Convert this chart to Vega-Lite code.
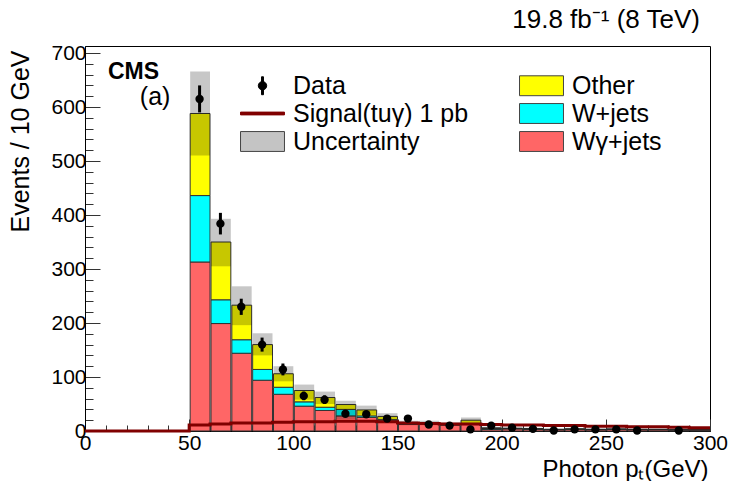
{
  "$schema": "https://vega.github.io/schema/vega-lite/v6.json",
  "width": 625,
  "height": 385,
  "autosize": {"type": "none"},
  "padding": {"left": 85, "top": 46, "right": 21, "bottom": 50},
  "background": "white",
  "title": {"text": "19.8 fb⁻¹ (8 TeV)", "anchor": "end", "frame": "group", "fontSize": 26, "fontWeight": "normal", "font": "Liberation Sans", "color": "black", "baseline": "alphabetic", "offset": 14, "dx": -10, "dy": 26},
  "datasets": {
    "stack": [
      {"lo":50,"hi":60,"label":"Wγ+jets","ord":1,"n":313},{"lo":60,"hi":70,"label":"Wγ+jets","ord":1,"n":199},{"lo":70,"hi":80,"label":"Wγ+jets","ord":1,"n":144},{"lo":80,"hi":90,"label":"Wγ+jets","ord":1,"n":94},{"lo":90,"hi":100,"label":"Wγ+jets","ord":1,"n":68},
      {"lo":100,"hi":110,"label":"Wγ+jets","ord":1,"n":46},{"lo":110,"hi":120,"label":"Wγ+jets","ord":1,"n":38},{"lo":120,"hi":130,"label":"Wγ+jets","ord":1,"n":28},{"lo":130,"hi":140,"label":"Wγ+jets","ord":1,"n":25},{"lo":140,"hi":150,"label":"Wγ+jets","ord":1,"n":19},
      {"lo":150,"hi":160,"label":"Wγ+jets","ord":1,"n":12},{"lo":160,"hi":170,"label":"Wγ+jets","ord":1,"n":12},{"lo":170,"hi":180,"label":"Wγ+jets","ord":1,"n":11},{"lo":180,"hi":190,"label":"Wγ+jets","ord":1,"n":12},{"lo":190,"hi":200,"label":"Wγ+jets","ord":1,"n":3},
      {"lo":200,"hi":210,"label":"Wγ+jets","ord":1,"n":4},{"lo":210,"hi":220,"label":"Wγ+jets","ord":1,"n":3.5},{"lo":220,"hi":230,"label":"Wγ+jets","ord":1,"n":2.5},{"lo":230,"hi":240,"label":"Wγ+jets","ord":1,"n":3},{"lo":240,"hi":250,"label":"Wγ+jets","ord":1,"n":2.5},
      {"lo":250,"hi":260,"label":"Wγ+jets","ord":1,"n":3},{"lo":260,"hi":270,"label":"Wγ+jets","ord":1,"n":2.5},{"lo":270,"hi":280,"label":"Wγ+jets","ord":1,"n":2.5},{"lo":280,"hi":290,"label":"Wγ+jets","ord":1,"n":2},{"lo":290,"hi":300,"label":"Wγ+jets","ord":1,"n":2},
      {"lo":50,"hi":60,"label":"W+jets","ord":2,"n":123},{"lo":60,"hi":70,"label":"W+jets","ord":2,"n":44},{"lo":70,"hi":80,"label":"W+jets","ord":2,"n":25},{"lo":80,"hi":90,"label":"W+jets","ord":2,"n":20},{"lo":90,"hi":100,"label":"W+jets","ord":2,"n":13},
      {"lo":100,"hi":110,"label":"W+jets","ord":2,"n":8},{"lo":110,"hi":120,"label":"W+jets","ord":2,"n":6},{"lo":120,"hi":130,"label":"W+jets","ord":2,"n":12},{"lo":130,"hi":140,"label":"W+jets","ord":2,"n":3},{"lo":140,"hi":150,"label":"W+jets","ord":2,"n":2},
      {"lo":150,"hi":160,"label":"W+jets","ord":2,"n":1},{"lo":160,"hi":170,"label":"W+jets","ord":2,"n":1},{"lo":170,"hi":180,"label":"W+jets","ord":2,"n":1},{"lo":180,"hi":190,"label":"W+jets","ord":2,"n":2},{"lo":190,"hi":200,"label":"W+jets","ord":2,"n":2},
      {"lo":200,"hi":210,"label":"W+jets","ord":2,"n":0.5},{"lo":210,"hi":220,"label":"W+jets","ord":2,"n":0.3},{"lo":220,"hi":230,"label":"W+jets","ord":2,"n":0.2},{"lo":230,"hi":240,"label":"W+jets","ord":2,"n":0.3},{"lo":240,"hi":250,"label":"W+jets","ord":2,"n":0.2},
      {"lo":250,"hi":260,"label":"W+jets","ord":2,"n":0.2},{"lo":260,"hi":270,"label":"W+jets","ord":2,"n":0.2},{"lo":270,"hi":280,"label":"W+jets","ord":2,"n":0.2},{"lo":280,"hi":290,"label":"W+jets","ord":2,"n":0.2},{"lo":290,"hi":300,"label":"W+jets","ord":2,"n":0.2},
      {"lo":50,"hi":60,"label":"Other","ord":3,"n":152},{"lo":60,"hi":70,"label":"Other","ord":3,"n":107},{"lo":70,"hi":80,"label":"Other","ord":3,"n":64},{"lo":80,"hi":90,"label":"Other","ord":3,"n":46},{"lo":90,"hi":100,"label":"Other","ord":3,"n":25},
      {"lo":100,"hi":110,"label":"Other","ord":3,"n":21},{"lo":110,"hi":120,"label":"Other","ord":3,"n":18},{"lo":120,"hi":130,"label":"Other","ord":3,"n":9},{"lo":130,"hi":140,"label":"Other","ord":3,"n":11},{"lo":140,"hi":150,"label":"Other","ord":3,"n":6},
      {"lo":150,"hi":160,"label":"Other","ord":3,"n":2},{"lo":160,"hi":170,"label":"Other","ord":3,"n":2},{"lo":170,"hi":180,"label":"Other","ord":3,"n":1},{"lo":180,"hi":190,"label":"Other","ord":3,"n":6},{"lo":190,"hi":200,"label":"Other","ord":3,"n":0.5},
      {"lo":200,"hi":210,"label":"Other","ord":3,"n":0.5},{"lo":210,"hi":220,"label":"Other","ord":3,"n":0.3},{"lo":220,"hi":230,"label":"Other","ord":3,"n":0.3},{"lo":230,"hi":240,"label":"Other","ord":3,"n":0.5},{"lo":240,"hi":250,"label":"Other","ord":3,"n":0.3},
      {"lo":250,"hi":260,"label":"Other","ord":3,"n":0.3},{"lo":260,"hi":270,"label":"Other","ord":3,"n":0.2},{"lo":270,"hi":280,"label":"Other","ord":3,"n":0.2},{"lo":280,"hi":290,"label":"Other","ord":3,"n":0.2},{"lo":290,"hi":300,"label":"Other","ord":3,"n":0.2}
    ],
    "unc": [
      {"lo":50,"hi":60,"ulo":510,"uhi":666},{"lo":60,"hi":70,"ulo":305,"uhi":393},{"lo":70,"hi":80,"ulo":196,"uhi":268},{"lo":80,"hi":90,"ulo":140,"uhi":181},{"lo":90,"hi":100,"ulo":92,"uhi":120},
      {"lo":100,"hi":110,"ulo":58,"uhi":86},{"lo":110,"hi":120,"ulo":50,"uhi":73},{"lo":120,"hi":130,"ulo":22,"uhi":56},{"lo":130,"hi":140,"ulo":30,"uhi":47},{"lo":140,"hi":150,"ulo":21,"uhi":33},
      {"lo":150,"hi":160,"ulo":11,"uhi":19},{"lo":160,"hi":170,"ulo":11,"uhi":19},{"lo":170,"hi":180,"ulo":10,"uhi":16},{"lo":180,"hi":190,"ulo":15,"uhi":25},{"lo":190,"hi":200,"ulo":3,"uhi":8},
      {"lo":200,"hi":210,"ulo":3,"uhi":7},{"lo":210,"hi":220,"ulo":2,"uhi":6},{"lo":220,"hi":230,"ulo":1,"uhi":5},{"lo":230,"hi":240,"ulo":2,"uhi":6},{"lo":240,"hi":250,"ulo":1,"uhi":5},
      {"lo":250,"hi":260,"ulo":2,"uhi":5},{"lo":260,"hi":270,"ulo":1,"uhi":5},{"lo":270,"hi":280,"ulo":1,"uhi":5},{"lo":280,"hi":290,"ulo":1,"uhi":4},{"lo":290,"hi":300,"ulo":1,"uhi":4}
    ],
    "sig": [
      {"x":0,"s":0},{"x":10,"s":0},{"x":20,"s":0},{"x":30,"s":0},{"x":40,"s":0},
      {"x":50,"s":11},{"x":60,"s":13},{"x":70,"s":15},{"x":80,"s":15},{"x":90,"s":16},
      {"x":100,"s":17},{"x":110,"s":17},{"x":120,"s":18},{"x":130,"s":18},{"x":140,"s":17},
      {"x":150,"s":15},{"x":160,"s":14},{"x":170,"s":13},{"x":180,"s":13},{"x":190,"s":12},
      {"x":200,"s":11},{"x":210,"s":11},{"x":220,"s":10},{"x":230,"s":10},{"x":240,"s":9},
      {"x":250,"s":9},{"x":260,"s":8},{"x":270,"s":8},{"x":280,"s":7},{"x":290,"s":6},{"x":300,"s":6}
    ],
    "obs": [
      {"c":55,"n":615,"elo":590,"ehi":640},{"c":65,"n":384,"elo":364,"ehi":404},{"c":75,"n":230,"elo":215,"ehi":245},{"c":85,"n":160,"elo":147,"ehi":173},{"c":95,"n":114,"elo":103,"ehi":125},
      {"c":105,"n":65,"elo":57,"ehi":73},{"c":115,"n":58,"elo":50,"ehi":66},{"c":125,"n":32,"elo":26,"ehi":38},{"c":135,"n":31,"elo":25,"ehi":37},{"c":145,"n":23,"elo":18,"ehi":28},
      {"c":155,"n":23,"elo":18,"ehi":28},{"c":165,"n":12,"elo":8.5,"ehi":15.5},{"c":175,"n":10,"elo":7,"ehi":13},{"c":185,"n":3,"elo":1.3,"ehi":4.7},{"c":195,"n":10,"elo":7,"ehi":13},
      {"c":205,"n":6,"elo":3.6,"ehi":8.4},{"c":215,"n":4,"elo":2,"ehi":6},{"c":225,"n":1,"elo":0,"ehi":2},{"c":235,"n":3,"elo":1.3,"ehi":4.7},{"c":245,"n":3,"elo":1.3,"ehi":4.7},
      {"c":255,"n":3,"elo":1.3,"ehi":4.7},{"c":265,"n":1,"elo":0,"ehi":2},{"c":285,"n":1,"elo":0,"ehi":2}
    ],
    "leg": [
      {"label":"Data"},{"label":"Signal(tuγ) 1 pb"},{"label":"Uncertainty"},{"label":"Other"},{"label":"W+jets"},{"label":"Wγ+jets"}
    ],
    "cms": [{"x":11,"y":652,"t":"CMS"}],
    "tag": [{"x":41,"y":603,"t":"(a)"}]
  },
  "layer": [
    {
      "data": {"name": "stack"},
      "mark": {"type": "bar", "stroke": "#333333", "strokeWidth": 1},
      "encoding": {
        "x": {"field": "lo", "type": "quantitative", "bin": {"binned": true, "step": 10}, "title": "Photon pₜ(GeV)",
              "scale": {"domain": [0, 300], "nice": false, "zero": false}},
        "x2": {"field": "hi"},
        "y": {"field": "n", "type": "quantitative", "stack": "zero", "title": "Events / 10 GeV",
              "scale": {"domain": [0, 713], "nice": false}},
        "fill": {"field": "label", "type": "nominal",
                 "scale": {"domain": ["Data","Signal(tuγ) 1 pb","Uncertainty","Other","W+jets","Wγ+jets"], "range": ["#000000","#800000","#c4c4c4","#ffff00","#00ffff","#ff6666"]}},
        "order": {"field": "ord", "type": "quantitative"}
      }
    },
    {
      "data": {"name": "unc"},
      "mark": {"type": "bar", "fill": "#000000", "fillOpacity": 0.22, "strokeWidth": 0},
      "encoding": {
        "x": {"field": "lo", "type": "quantitative", "bin": {"binned": true, "step": 10}, "title": "Photon pₜ(GeV)"},
        "x2": {"field": "hi"},
        "y": {"field": "ulo", "type": "quantitative", "title": "Events / 10 GeV"},
        "y2": {"field": "uhi"}
      }
    },
    {
      "data": {"name": "sig"},
      "mark": {"type": "line", "interpolate": "step-after", "color": "#800000", "strokeWidth": 3},
      "encoding": {
        "x": {"field": "x", "type": "quantitative", "title": "Photon pₜ(GeV)"},
        "y": {"field": "s", "type": "quantitative", "title": "Events / 10 GeV"}
      }
    },
    {
      "data": {"name": "obs"},
      "mark": {"type": "rule", "color": "#000000", "strokeWidth": 3},
      "encoding": {
        "x": {"field": "c", "type": "quantitative", "title": "Photon pₜ(GeV)"},
        "y": {"field": "elo", "type": "quantitative", "title": "Events / 10 GeV"},
        "y2": {"field": "ehi"}
      }
    },
    {
      "data": {"name": "obs"},
      "mark": {"type": "point", "shape": "circle", "filled": true, "color": "#000000", "size": 70, "opacity": 1},
      "encoding": {
        "x": {"field": "c", "type": "quantitative", "title": "Photon pₜ(GeV)"},
        "y": {"field": "n", "type": "quantitative", "title": "Events / 10 GeV"}
      }
    },
    {
      "data": {"name": "cms"},
      "mark": {"type": "text", "font": "Liberation Sans", "fontWeight": "bold", "fontSize": 23, "align": "left", "baseline": "alphabetic", "color": "#000000"},
      "encoding": {
        "x": {"field": "x", "type": "quantitative", "title": "Photon pₜ(GeV)"},
        "y": {"field": "y", "type": "quantitative", "title": "Events / 10 GeV"},
        "text": {"field": "t"}
      }
    },
    {
      "data": {"name": "tag"},
      "mark": {"type": "text", "font": "Liberation Sans", "fontSize": 25, "align": "right", "baseline": "alphabetic", "color": "#000000"},
      "encoding": {
        "x": {"field": "x", "type": "quantitative", "title": "Photon pₜ(GeV)"},
        "y": {"field": "y", "type": "quantitative", "title": "Events / 10 GeV"},
        "text": {"field": "t"}
      }
    },
    {
      "data": {"name": "leg"},
      "mark": {"type": "point", "filled": true, "opacity": 0},
      "encoding": {
        "fill": {"field": "label", "type": "nominal",
                 "scale": {"domain": ["Data","Signal(tuγ) 1 pb","Uncertainty","Other","W+jets","Wγ+jets"], "range": ["#000000","#800000","#c4c4c4","#ffff00","#00ffff","#ff6666"]},
                 "legend": {"orient": "none", "legendX": 163, "legendY": 25, "columns": 2, "title": null, "labelFontSize": 25, "labelFont": "Liberation Sans", "labelColor": "#000000",
                            "symbolSize": 784, "labelOffset": 16, "rowPadding": 0, "columnPadding": 48, "padding": 0, "symbolStrokeWidth": 1, "labelLimit": 0, "symbolOpacity": 1}},
        "stroke": {"field": "label", "type": "nominal",
                   "scale": {"domain": ["Data","Signal(tuγ) 1 pb","Uncertainty","Other","W+jets","Wγ+jets"], "range": ["#000000","#800000","#444444","#444444","#444444","#444444"]}},
        "shape": {"field": "label", "type": "nominal",
                  "scale": {"domain": ["Data","Signal(tuγ) 1 pb","Uncertainty","Other","W+jets","Wγ+jets"],
                            "range": ["M-0.07,-0.64H0.07V0.64H-0.07Z M-0.3,0A0.3,0.3 0 1,1 0.3,0A0.3,0.3 0 1,1 -0.3,0Z",
                                      "M-1.57,-0.1H1.57V0.1H-1.57Z",
                                      "M-1.57,-0.71H1.57V0.71H-1.57Z",
                                      "M-1.57,-0.71H1.57V0.71H-1.57Z",
                                      "M-1.57,-0.71H1.57V0.71H-1.57Z",
                                      "M-1.57,-0.71H1.57V0.71H-1.57Z"]}}
      }
    }
  ],
  "config": {
    "font": "Liberation Sans",
    "view": {"stroke": "#000000", "strokeWidth": 1},
    "axis": {"grid": false, "domainColor": "#000000", "domainWidth": 1, "tickColor": "#333333", "tickWidth": 1,
             "labelFont": "Liberation Sans", "labelFontSize": 21, "labelColor": "#000000", "labelFlush": false, "labelOverlap": false,
             "titleFont": "Liberation Sans", "titleFontSize": 25, "titleFontWeight": "normal", "titleColor": "#000000"},
    "axisX": {"tickCount": 30, "labelExpr": "datum.value % 50 === 0 ? datum.label : ''",
              "tickSize": {"condition": {"test": "datum.value % 50 === 0", "value": -12}, "value": -6},
              "labelPadding": 13, "titleX": 623, "titleY": 45, "titleFontSize": 24, "titleAlign": "right", "titleBaseline": "alphabetic"},
    "axisY": {"tickCount": 36, "labelExpr": "datum.value % 100 === 0 ? datum.label : ''",
              "tickSize": {"condition": {"test": "datum.value % 100 === 0", "value": -15}, "value": -8},
              "labelPadding": 14, "titleX": -57, "titleY": 4, "titleAlign": "right", "titleBaseline": "alphabetic", "titleAngle": 270},
    "legend": {"symbolOpacity": 1}
  }
}
